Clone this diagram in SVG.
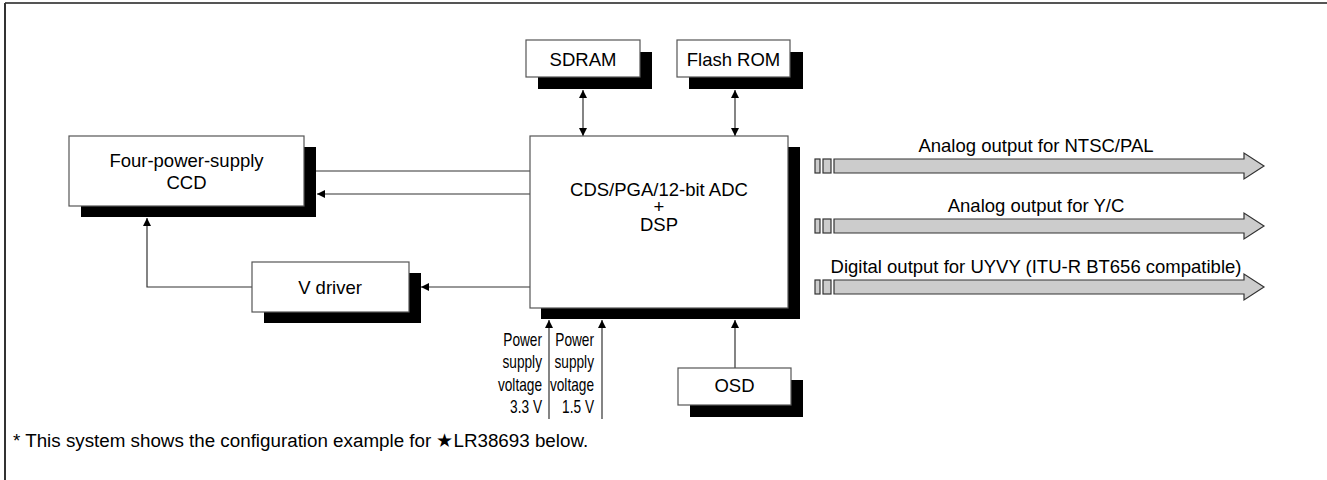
<svg xmlns="http://www.w3.org/2000/svg" width="1327" height="480" viewBox="0 0 1327 480">
<style>
.box{fill:#fff;stroke:#555;stroke-width:1.2}
.sh{fill:#000}
.t{font-family:"Liberation Sans",Arial,sans-serif;font-size:18.5px;fill:#000}
.ts{font-family:"Liberation Sans",Arial,sans-serif;font-size:18px;fill:#000}
.fn{font-family:"Liberation Sans",Arial,sans-serif;font-size:18.8px;fill:#000}
.ln{stroke:#333;stroke-width:1.2;fill:none}
.out{fill:#cccccc;stroke:#333;stroke-width:1.2}
</style>
<defs>
<marker id="ah" viewBox="0 0 10 10" refX="10" refY="5" markerWidth="8" markerHeight="8" markerUnits="userSpaceOnUse" orient="auto-start-reverse">
<path d="M0,0 L10,5 L0,10 Z" fill="#000"/>
</marker>
</defs>
<g id="frame">
<line x1="5" y1="3" x2="1327" y2="3" stroke="#555" stroke-width="2"/>
<line x1="5" y1="3" x2="5" y2="480" stroke="#333" stroke-width="2"/>
</g>
<g id="connectors">
<line class="ln" x1="583" y1="90" x2="583" y2="136" marker-start="url(#ah)" marker-end="url(#ah)"/>
<line class="ln" x1="735" y1="90" x2="735" y2="136" marker-start="url(#ah)" marker-end="url(#ah)"/>
<line class="ln" x1="530" y1="171" x2="316" y2="171"/>
<line class="ln" x1="530" y1="194" x2="317" y2="194" marker-end="url(#ah)"/>
<line class="ln" x1="530" y1="287" x2="421" y2="287" marker-end="url(#ah)"/>
<polyline class="ln" points="252,287 147,287 147,218" marker-end="url(#ah)"/>
<line class="ln" x1="549" y1="419" x2="549" y2="320" marker-end="url(#ah)"/>
<line class="ln" x1="602" y1="419" x2="602" y2="320" marker-end="url(#ah)"/>
<line class="ln" x1="735" y1="368" x2="735" y2="320" marker-end="url(#ah)"/>
</g>
<g id="sdram">
<rect class="sh" x="538" y="52" width="114" height="37"/>
<rect class="box" x="526" y="40" width="114" height="37"/>
<text class="t" x="583" y="66" text-anchor="middle">SDRAM</text>
</g>
<g id="flashrom">
<rect class="sh" x="689" y="52" width="114" height="37"/>
<rect class="box" x="677" y="40" width="113" height="37"/>
<text class="t" x="733.5" y="66" text-anchor="middle">Flash ROM</text>
</g>
<g id="ccd">
<rect class="sh" x="81" y="147" width="235" height="70"/>
<rect class="box" x="69" y="136" width="235" height="70"/>
<text class="t" x="186.5" y="167" text-anchor="middle">Four-power-supply</text>
<text class="t" x="186.5" y="189" text-anchor="middle">CCD</text>
</g>
<g id="vdriver">
<rect class="sh" x="264" y="273" width="157" height="50"/>
<rect class="box" x="252" y="262" width="157" height="50"/>
<text class="t" x="330" y="294" text-anchor="middle">V driver</text>
</g>
<g id="dsp">
<rect class="sh" x="541" y="147" width="259" height="172"/>
<rect class="box" x="530" y="136" width="258" height="172"/>
<text class="t" x="659" y="196" text-anchor="middle">CDS/PGA/12-bit ADC</text>
<text class="t" x="659" y="213" text-anchor="middle">+</text>
<text class="t" x="659" y="231" text-anchor="middle">DSP</text>
</g>
<g id="osd">
<rect class="sh" x="690" y="380" width="113" height="37"/>
<rect class="box" x="678" y="368" width="113" height="37"/>
<text class="t" x="734.5" y="392" text-anchor="middle">OSD</text>
</g>
<g id="power33" transform="translate(542,0) scale(0.76,1)">
<text class="ts" x="0" y="346" text-anchor="end">Power</text>
<text class="ts" x="0" y="368" text-anchor="end">supply</text>
<text class="ts" x="0" y="391" text-anchor="end">voltage</text>
<text class="ts" x="0" y="413" text-anchor="end">3.3 V</text>
</g>
<g id="power15" transform="translate(594,0) scale(0.76,1)">
<text class="ts" x="0" y="346" text-anchor="end">Power</text>
<text class="ts" x="0" y="368" text-anchor="end">supply</text>
<text class="ts" x="0" y="391" text-anchor="end">voltage</text>
<text class="ts" x="0" y="413" text-anchor="end">1.5 V</text>
</g>
<g id="out-ntsc">
<rect class="out" x="815" y="159" width="5" height="14"/>
<rect class="out" x="823" y="159" width="8" height="14"/>
<path class="out" d="M834,159 L1244,159 L1244,153 L1264,166 L1244,179 L1244,173 L834,173 Z"/>
<text class="t" x="1036" y="152" text-anchor="middle">Analog output for NTSC/PAL</text>
</g>
<g id="out-yc">
<rect class="out" x="815" y="219" width="5" height="14"/>
<rect class="out" x="823" y="219" width="8" height="14"/>
<path class="out" d="M834,219 L1244,219 L1244,213 L1264,226 L1244,239 L1244,233 L834,233 Z"/>
<text class="t" x="1036" y="212" text-anchor="middle">Analog output for Y/C</text>
</g>
<g id="out-uyvy">
<rect class="out" x="815" y="280" width="5" height="14"/>
<rect class="out" x="823" y="280" width="8" height="14"/>
<path class="out" d="M834,280 L1244,280 L1244,274 L1264,287 L1244,300 L1244,294 L834,294 Z"/>
<text class="t" x="1036" y="273" text-anchor="middle">Digital output for UYVY (ITU-R BT656 compatible)</text>
</g>
<text class="fn" x="13" y="447">* This system shows the configuration example for ★LR38693 below.</text>
</svg>
